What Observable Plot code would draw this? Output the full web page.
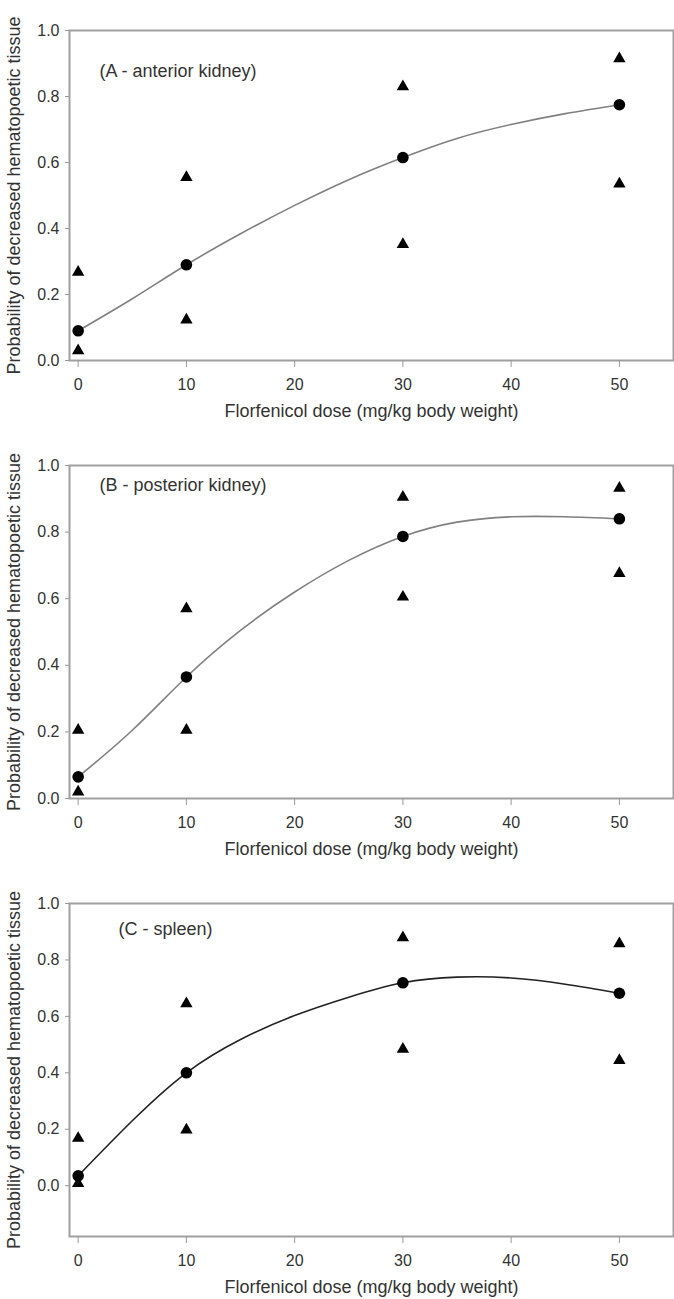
<!DOCTYPE html>
<html>
<head>
<meta charset="utf-8">
<script src="https://cdn.jsdelivr.net/npm/d3@7"></script>
<script src="https://cdn.jsdelivr.net/npm/@observablehq/plot@0.6"></script>
<style>
  html, body { margin: 0; padding: 0; background: #fff; }
  #chart { width: 674px; }
  #chart svg { display: block; }
</style>
</head>
<body>
<div id="chart"></div>
<script>
// ---- data ----
const doses = [0, 10, 30, 50];

const aMean  = [0.09, 0.29, 0.615, 0.775];
const aUpper = [0.268, 0.555, 0.83, 0.915];
const aLower = [0.03, 0.123, 0.352, 0.535];

const bMean  = [0.065, 0.365, 0.787, 0.84];
const bUpper = [0.205, 0.57, 0.905, 0.932];
const bLower = [0.02, 0.205, 0.605, 0.676];

const cMean  = [0.035, 0.40, 0.719, 0.682];
const cUpper = [0.168, 0.645, 0.879, 0.858];
const cLower = [0.008, 0.198, 0.484, 0.444];

// fitted curves at these doses
const fitDose = [0, 5, 10, 15, 20, 25, 30, 35, 40, 45, 50];
const aFit = [0.09, 0.187, 0.29, 0.384, 0.47, 0.548, 0.615, 0.673, 0.715, 0.748, 0.775];
const bFit = [0.065, 0.205, 0.365, 0.505, 0.62, 0.715, 0.787, 0.83, 0.846, 0.846, 0.84];
const cFit = [0.035, 0.23, 0.40, 0.518, 0.603, 0.668, 0.719, 0.739, 0.736, 0.714, 0.682];

const panelLabels = ["(A - anterior kidney)", "(B - posterior kidney)", "(C - spleen)"];
const xTicks = [0, 10, 20, 30, 40, 50];
const yTicks = [0, 0.2, 0.4, 0.6, 0.8, 1.0];
const xTitle = "Florfenicol dose (mg/kg body weight)";
const yTitle = "Probability of decreased hematopoetic tissue";

// ---- build ----
const toPts = (xs, ys) => xs.map((x, i) => ({x, y: ys[i]}));

const panels = [
  {mean: aMean, upper: aUpper, lower: aLower, fit: aFit, label: panelLabels[0],
   yDomain: [0, 1], mt: 30, mb: 73, lab: {dx: 30, dy: 41}, curveColor: "#808080"},
  {mean: bMean, upper: bUpper, lower: bLower, fit: bFit, label: panelLabels[1],
   yDomain: [0, 1], mt: 32, mb: 68, lab: {dx: 30, dy: 20}, curveColor: "#808080"},
  {mean: cMean, upper: cUpper, lower: cLower, fit: cFit, label: panelLabels[2],
   yDomain: [-0.18, 1], mt: 37, mb: 63, lab: {dx: 49, dy: 26}, curveColor: "#222"}
];

const font = "'Liberation Sans', Arial, Helvetica, sans-serif";
const container = document.getElementById("chart");

for (const p of panels) {
  const tri = toPts(doses, p.upper).concat(toPts(doses, p.lower));
  const circ = toPts(doses, p.mean);
  const fit = toPts(fitDose, p.fit);
  const chart = Plot.plot({
    width: 674,
    height: 433,
    marginLeft: 69,
    marginRight: 1,
    marginTop: p.mt,
    marginBottom: p.mb,
    style: {fontFamily: font, fontSize: "16px", background: "#fff", color: "#333"},
    x: {domain: [-0.8, 55]},
    y: {domain: p.yDomain},
    marks: [
      Plot.frame({stroke: "#a0a0a0", strokeWidth: 2}),
      Plot.axisX({ticks: xTicks, tickSize: 7, tickPadding: 11, stroke: "#999", fill: "#333",
                  label: null, tickFormat: d => String(d)}),
      Plot.axisY({ticks: yTicks, tickSize: 4, tickPadding: 6, stroke: "#999", fill: "#333",
                  label: null, tickFormat: d3.format(".1f")}),
      Plot.line(fit, {x: "x", y: "y", curve: "natural", stroke: p.curveColor, strokeWidth: 1.6}),
      Plot.dot(tri, {x: "x", y: "y", symbol: "triangle", r: 4.6, fill: "#000", stroke: "none"}),
      Plot.dot(circ, {x: "x", y: "y", symbol: "circle", r: 5.8, fill: "#000", stroke: "none"}),
      Plot.text([p.label], {frameAnchor: "top-left", dx: p.lab.dx, dy: p.lab.dy,
                 textAnchor: "start", lineAnchor: "middle", fontSize: 18, fill: "#333"}),
      Plot.text([xTitle], {frameAnchor: "bottom", dy: 51, textAnchor: "middle",
                 lineAnchor: "middle", fontSize: 18, fill: "#333"}),
      Plot.text([yTitle], {frameAnchor: "left", dx: -55, rotate: -90, textAnchor: "middle",
                 lineAnchor: "middle", fontSize: 18, fill: "#333"})
    ]
  });
  container.appendChild(chart);
}
</script>
</body>
</html>
